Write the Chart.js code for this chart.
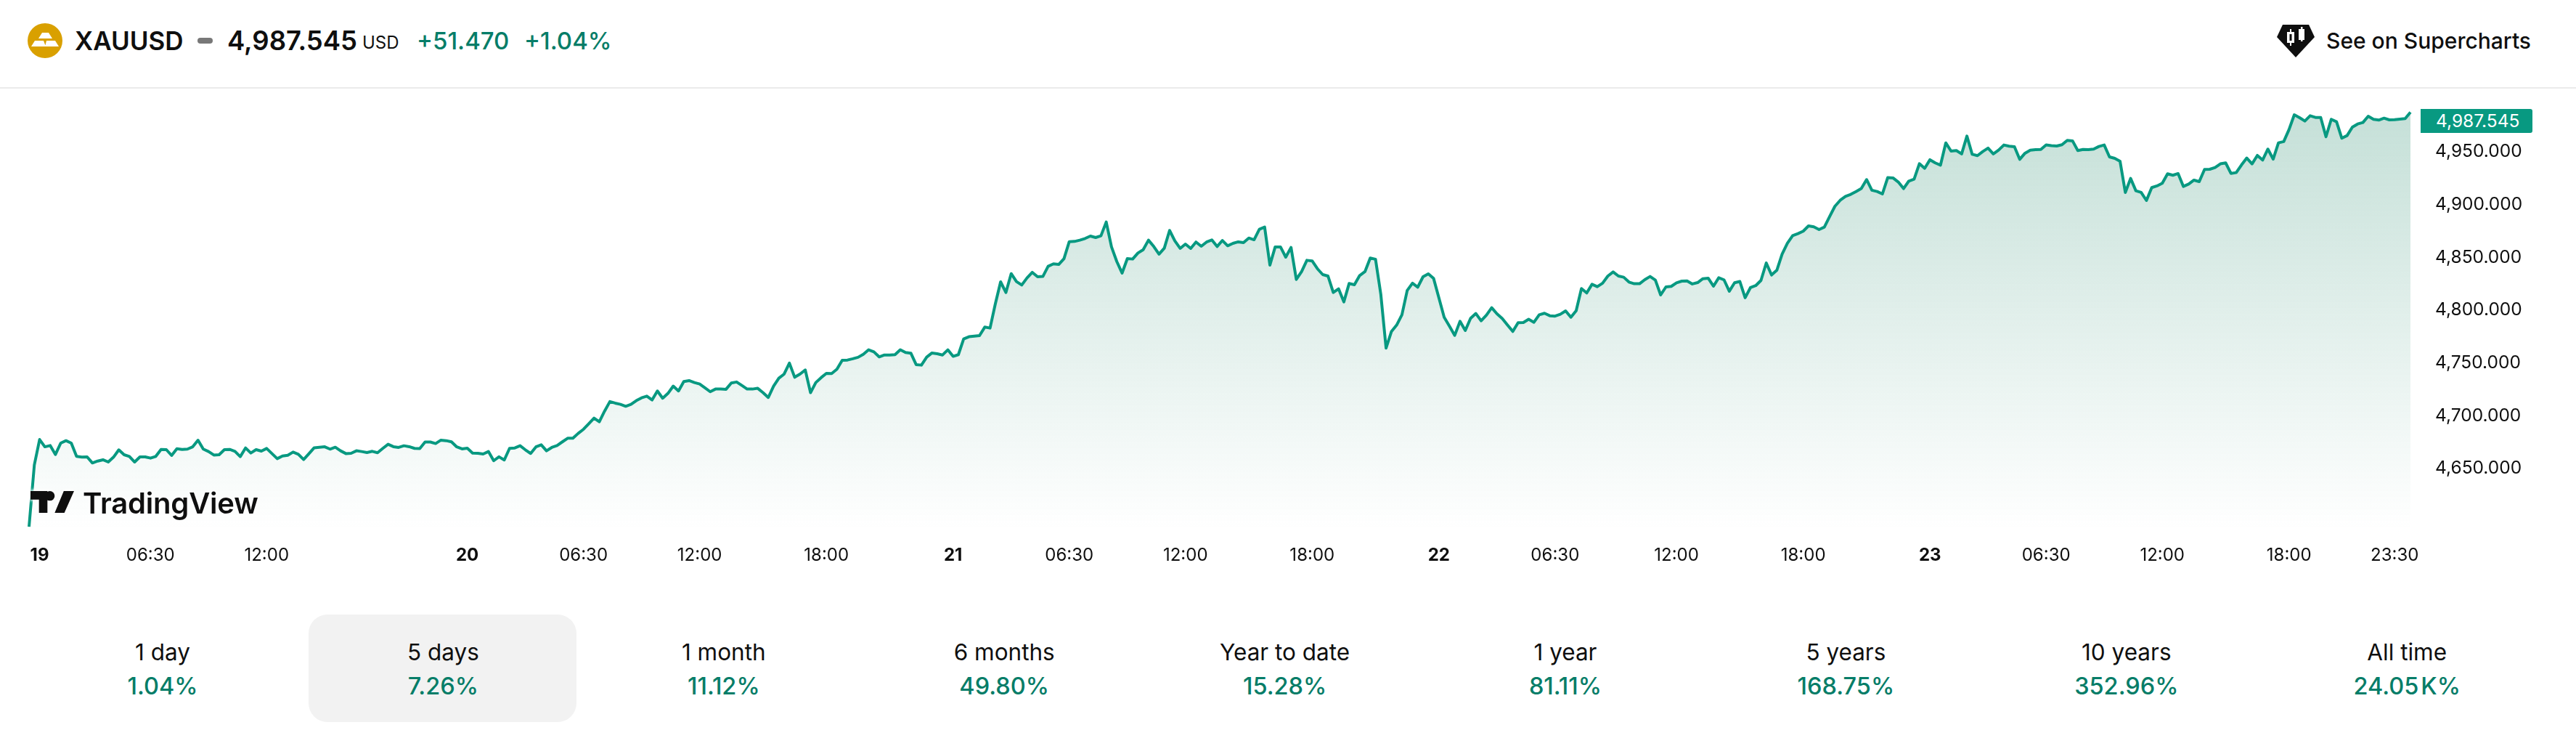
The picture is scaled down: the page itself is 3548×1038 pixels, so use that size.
<!DOCTYPE html>
<html>
<head>
<meta charset="utf-8">
<title>XAUUSD</title>
<script src="https://cdn.jsdelivr.net/npm/chart.js@4"></script>
<style>
  html, body { margin: 0; padding: 0; background: #fff; }
  body { position: relative; width: 3548px; height: 1038px; overflow: hidden; font-family: Inter, sans-serif; color: #0f0f0f; }
  .abs { position: absolute; white-space: nowrap; line-height: 1; }
  #rule { position: absolute; left: 0; top: 120px; width: 3548px; height: 2px; background: #ebebeb; }
  #chart { position: absolute; left: 0; top: 81px; }
  #lastPrice { position: absolute; left: 3334px; top: 150px; width: 154px; height: 33px; background: #089981; color: #fff; border-radius: 0 3px 3px 0; font-size: 24.500px; line-height: 33px; padding-left: 21px; box-sizing: border-box; }
  #logo { position: absolute; left: 42px; top: 668px; height: 50px; filter: drop-shadow(0 0 2px #fff) drop-shadow(0 0 2px #fff); }
  #logo svg { position: absolute; left: 0; top: 8px; }
  #logo span { position: absolute; left: 72px; top: 0; font-size: 40px; font-weight: 600; line-height: 50px; letter-spacing: -0.2px; color: #0f0f0f; white-space: nowrap; }
  #activeTab { position: absolute; left: 425px; top: 846px; width: 369px; height: 148px; background: #f2f2f2; border-radius: 26px; }
  .tab { position: absolute; top: 880px; width: 380px; text-align: center; }
  .tab .name { font-size: 31.500px; line-height: 36px; color: #0f0f0f; }
  .tab .val { font-size: 32.500px; line-height: 36px; margin-top: 11px; font-weight: 500; color: #067d68; }
  .tab .unit { margin-left: 3px; }
</style>
</head>
<body>
<div id="rule"></div>

<svg class="abs" style="left:38px;top:32px" width="48" height="48" viewBox="0 0 48 48">
  <circle cx="24" cy="24" r="24" fill="#d9a000"/>
  <path d="M20 13h9l5 8H15zM10 24h12l3 8H5zM26 24h12l5 8H24z" fill="#fff"/>
</svg>
<div class="abs" style="left:103px;top:39px;font-size:35px;font-weight:600">XAUUSD</div>
<div class="abs" style="left:272px;top:52px;width:21px;height:8px;border-radius:4px;background:#787878"></div>
<div class="abs" style="left:313px;top:38px;font-size:36.500px;font-weight:600">4,987.545</div>
<div class="abs" style="left:499px;top:47px;font-size:24px">USD</div>
<div class="abs" style="left:574px;top:40px;font-size:33px;font-weight:500;color:#067d68">+51.470</div>
<div class="abs" style="left:722px;top:40px;font-size:33px;font-weight:500;color:#067d68">+1.04%</div>

<svg class="abs" style="left:3136px;top:33px" width="52" height="47" viewBox="0 0 52 47">
  <path d="M8 1h36l8 17-26 28L0 18z" fill="#0f0f0f"/>
  <path d="M14 11h10v15H14z" fill="#fff"/><path d="M18 7h2v23h-2z" fill="#fff"/><path d="M17.500 14h3v9h-3z" fill="#0f0f0f"/>
  <path d="M30 7h8v15h-8z" fill="#fff"/><path d="M33 4h2.500v20H33z" fill="#fff"/>
</svg>
<div class="abs" style="left:3204px;top:41px;font-size:30px;font-weight:500">See on Supercharts</div>

<canvas id="chart" width="3548" height="719"></canvas>
<div id="lastPrice">4,987.545</div>

<div id="logo">
  <svg width="60" height="30" viewBox="0 0 36 18"><path fill="#0f0f0f" d="M14 18H7V7H0V0h14v18zM28 18h-8L27.500 0H36l-8 18zM20 4a4 4 0 1 1-8 0 4 4 0 0 1 8 0z"/></svg>
  <span>TradingView</span>
</div>

<div id="activeTab"></div>
<div id="tabs"></div>

<script>
  // price, 15 min bars, one list per trading day
  const day19 = [
    4594.8, 4653.3, 4677.4, 4670.5, 4671.7, 4663.2, 4674, 4676.3, 4674, 4661.4,
    4660.7, 4660.9, 4655.2, 4657, 4658.2, 4656.1, 4660.7, 4667.6, 4663, 4661.4,
    4656.1, 4660.9, 4660.9, 4659.8, 4661.4, 4668, 4667.8, 4662.3, 4668.7, 4668,
    4668.3, 4670.5, 4676.7, 4668.3, 4666, 4662.7, 4663, 4667.8, 4668, 4666.2,
    4661.2, 4669.4, 4664.6, 4667.8, 4666.4, 4668.9, 4664.1, 4659.3, 4661.8, 4662.5,
    4665.5, 4663.4, 4658.4, 4663.9, 4669.6, 4670.1, 4670.5, 4668.3, 4670.1, 4666.7,
    4664.1, 4664.4, 4666.7, 4666, 4665.1, 4666.2, 4664.9, 4669, 4672.9, 4670.6,
    4669.9, 4671.5, 4670.6, 4669, 4668.8, 4675, 4675, 4673.6, 4676.8, 4676.3,
    4675.2, 4670.4, 4668.5
  ];
  const day20 = [
    4669.2, 4664.6, 4664.4, 4663.7, 4666, 4657.3, 4661, 4658, 4669, 4669.4,
    4671.5, 4667.6, 4664.2, 4670.4, 4672.4, 4666.7, 4669.9, 4671.7, 4675.2, 4678.6,
    4678.6, 4683.2, 4687.1, 4692.4, 4697.7, 4694.2, 4704.3, 4713.3, 4711.9, 4710.7,
    4708.9, 4710.7, 4714.2, 4716.9, 4718.5, 4714.9, 4723.4, 4716.5, 4721.1, 4728,
    4723.4, 4732.3, 4733.2, 4731.4, 4730, 4726.4, 4722.7, 4725.2, 4725.2, 4725,
    4731, 4731.9, 4728.6, 4725.2, 4725.2, 4725.9, 4721.8, 4717.2, 4728, 4735.5,
    4739.4, 4749.8, 4736.4, 4739.4, 4743.3, 4721.8, 4731.4, 4736, 4740.1, 4739.9,
    4744, 4752.5, 4752.7, 4753.9, 4755.3, 4758.2, 4762.4, 4760.5, 4755.7, 4757.5,
    4757.5, 4757.8, 4762.4, 4759.8, 4759.2, 4748.4, 4747.9, 4755.5, 4759.4, 4758.7,
    4757.5, 4762.4
  ];
  const day21 = [
    4756.2, 4757.8, 4772.7, 4774.8, 4775.4, 4775.9, 4783.9, 4783, 4806, 4826.8,
    4816.7, 4834.6, 4827.1, 4823.8, 4830.5, 4835.8, 4831.6, 4831.9, 4841.5, 4843.8,
    4843.3, 4848.8, 4864.9, 4865.1, 4866.3, 4867.9, 4870.2, 4868.8, 4870.4, 4883.5,
    4859.9, 4846.1, 4835.1, 4848.8, 4848.4, 4854.1, 4857.3, 4866.3, 4860.3, 4853,
    4858.7, 4875.5, 4865.6, 4858.5, 4862.6, 4858.5, 4864.5, 4860.5, 4864.5, 4866.5,
    4860.3, 4866, 4861, 4863.3, 4864.7, 4864, 4868.3, 4866.7, 4876.6, 4878.7,
    4842.7, 4859.9, 4859.9, 4850.2, 4859.4, 4829.1, 4836.5, 4847.2, 4846.6, 4839.2,
    4833.7, 4832.3, 4816.7, 4820.2, 4807.8, 4825.2, 4824.1, 4832.8, 4836.5, 4849.3,
    4848.2, 4815.1, 4764, 4779.6, 4785.8, 4795.6, 4818.6, 4825.5, 4821.8, 4831.6,
    4834.4, 4830, 4811.7
  ];
  const day22 = [
    4793.3, 4784.8, 4776.1, 4789.4, 4780.7, 4792.2, 4796.8, 4789.9, 4795.2, 4802.3,
    4796.5, 4792, 4785.8, 4779.8, 4788.1, 4788.3, 4791.3, 4788.5, 4795.6, 4797,
    4794.7, 4794.3, 4796.1, 4799.3, 4793.3, 4799.5, 4820.4, 4816.3, 4824.5, 4822.2,
    4825.5, 4832.3, 4836.2, 4832.3, 4831.2, 4826.6, 4825, 4825, 4828.9, 4831.9,
    4828.4, 4814.4, 4822, 4822.5, 4825.9, 4827.5, 4827.7, 4824.8, 4826.1, 4829.8,
    4830.3, 4822.7, 4830.7, 4828.7, 4817.9, 4825.9, 4827.1, 4811.7, 4821.3, 4823.2,
    4828.2, 4844.7, 4833.3, 4837.8, 4853, 4863.3, 4870.6, 4872.5, 4874.8, 4879.8,
    4878.9, 4876.4, 4878.7, 4888.6, 4898.4, 4904.1, 4907.8, 4909.7, 4912.4, 4915.2,
    4923.7, 4913.6, 4912.4, 4910.1, 4925.5, 4925.3, 4921.4, 4915.2, 4922.3, 4924.1,
    4938.8, 4934.4
  ];
  const day23 = [
    4942.5, 4939.5, 4937.4, 4958.5, 4950.7, 4951.2, 4948, 4964.9, 4947.7, 4946.4,
    4950.3, 4953.5, 4948, 4951.6, 4956.5, 4955.3, 4954.8, 4942.9, 4948.7, 4951.6,
    4952.1, 4952.3, 4956.5, 4955.8, 4955.5, 4956.7, 4960.8, 4960.4, 4951.2, 4952.3,
    4952.1, 4952.6, 4955.1, 4956.5, 4945.2, 4943.8, 4941.1, 4911.5, 4924.8, 4913.1,
    4911.5, 4903.9, 4916.1, 4917.7, 4920.2, 4929.2, 4927.8, 4929.4, 4917.2, 4919.5,
    4923.2, 4921.8, 4933.3, 4933.5, 4935.1, 4938.6, 4939.5, 4929.6, 4930.3, 4937.6,
    4944.1, 4938.6, 4946.6, 4942.2, 4952.6, 4943.1, 4958.5, 4959.7, 4971.1, 4985.1,
    4982.4, 4979.2, 4984.2, 4982.6, 4982.6, 4964.3, 4980.8, 4978.5, 4962.9, 4965.4,
    4973.4, 4976.4, 4977.8, 4983.7, 4980.8, 4980.1, 4981.9, 4980.3, 4980.5, 4981,
    4981.5, 4987.5
  ];

  const xTickIndexes = [2, 23, 45, 83, 105, 127, 151, 175, 197, 219, 243, 267, 289, 312, 336, 360, 382, 404, 428, 448];
  const xTickLabels = ["19", "06:30", "12:00", "20", "06:30", "12:00", "18:00", "21", "06:30", "12:00", "18:00", "22", "06:30", "12:00", "18:00", "23", "06:30", "12:00", "18:00", "23:30"];
  const yTickValues = [4650, 4700, 4750, 4800, 4850, 4900, 4950];

  const periods = ["1 day", "5 days", "1 month", "6 months", "Year to date", "1 year", "5 years", "10 years", "All time"];
  const periodChanges = ["1.04%", "7.26%", "11.12%", "49.80%", "15.28%", "81.11%", "168.75%", "352.96%", "24.05K%"];

  const prices = [...day19, ...day20, ...day21, ...day22, ...day23];

  // bottom row of periods
  const tabs = document.getElementById("tabs");
  periods.forEach((name, i) => {
    const tab = document.createElement("div");
    tab.className = "tab";
    tab.style.left = (224 + i * 386.4 - 190) + "px";
    const val = periodChanges[i].replace("K%", '<span class="unit">K%</span>');
    tab.innerHTML = `<div class="name">${name}</div><div class="val">${val}</div>`;
    tabs.appendChild(tab);
  });

  const ctx = document.getElementById("chart").getContext("2d");

  function areaFill(context) {
    const area = context.chart.chartArea;
    if (!area) return "transparent";
    const g = context.chart.ctx.createLinearGradient(0, area.top + 30, 0, area.bottom);
    g.addColorStop(0, "rgba(40,140,110,0.27)");
    g.addColorStop(1, "rgba(40,140,110,0)");
    return g;
  }

  new Chart(ctx, {
    type: "line",
    data: {
      labels: prices.map((p, i) => i),
      datasets: [{
        data: prices,
        borderColor: "#089981",
        borderWidth: 4,
        borderJoinStyle: "round",
        pointRadius: 0,
        tension: 0,
        fill: "start",
        backgroundColor: areaFill
      }]
    },
    options: {
      responsive: false,
      animation: false,
      devicePixelRatio: 1,
      layout: { padding: { left: 40, top: 22, right: 0, bottom: 0 } },
      plugins: { legend: { display: false }, tooltip: { enabled: false } },
      scales: {
        x: {
          type: "category",
          offset: false,
          border: { display: false },
          grid: { display: false },
          afterBuildTicks: scale => { scale.ticks = xTickIndexes.map(v => ({ value: v })); },
          afterFit: scale => { scale.height = 70; },
          ticks: {
            autoSkip: false,
            maxRotation: 0,
            padding: 12,
            color: "#0f0f0f",
            font: c => ({
              family: "Inter",
              size: 24,
              weight: /^\d\d$/.test(xTickLabels[xTickIndexes.indexOf(c.tick.value)]) ? "700" : "400"
            }),
            callback: v => xTickLabels[xTickIndexes.indexOf(v)]
          }
        },
        y: {
          position: "right",
          min: 4591.4,
          max: 5010.1,
          border: { display: false },
          grid: { display: false },
          afterBuildTicks: scale => { scale.ticks = yTickValues.map(v => ({ value: v })); },
          afterFit: scale => { scale.width = 228; },
          ticks: {
            crossAlign: "near",
            padding: 26,
            color: "#0f0f0f",
            font: { family: "Inter", size: 24.5 },
            callback: v => v.toLocaleString("en-US", { minimumFractionDigits: 3 })
          }
        }
      }
    }
  });
</script>
</body>
</html>
